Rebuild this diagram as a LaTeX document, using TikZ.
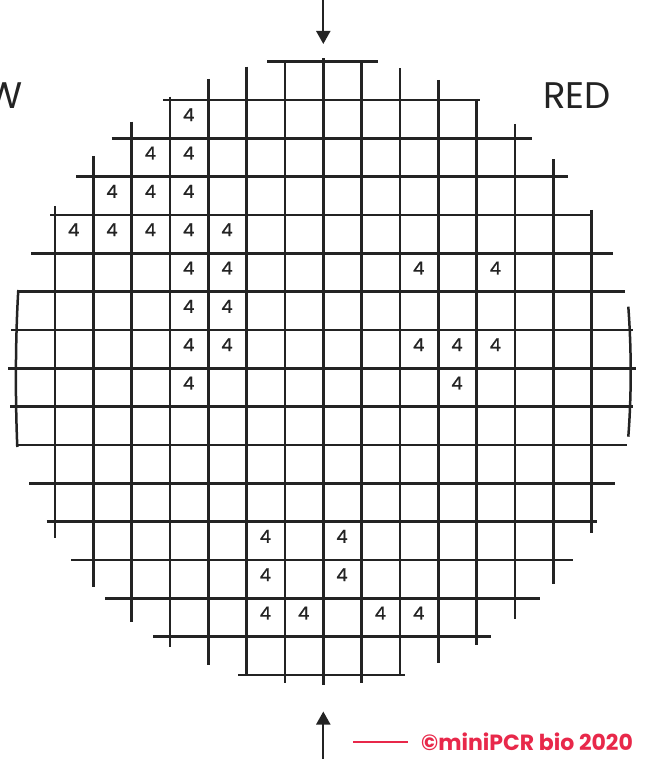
\documentclass[tikz,border=0pt]{standalone}
\usepackage{fontspec}
\setmainfont{Poppins}
\usetikzlibrary{arrows.meta}
\definecolor{mpred}{RGB}{232,40,74}
\definecolor{ink}{RGB}{35,35,35}
\begin{document}
\begin{tikzpicture}[x=1pt,y=-1pt,
  gridline/.style={line width=2.5pt, draw=ink, line cap=butt},
  digit/.style={font=\fontsize{18}{18}\selectfont\addfontfeature{FakeBold=0.8}, text=ink, inner sep=0pt},
  biglabel/.style={font=\fontsize{37}{37}\selectfont, text=ink, inner sep=0pt},
  arr/.style={line width=2pt, draw=ink, fill=ink, -{Triangle[width=14pt,length=13pt]}}]
\useasboundingbox (0,0) rectangle (645,767);
% vertical lines: index/top/bottom
\foreach \k/\t/\b in {0/206/538.3, 1/156/587.3, 2/121.7/621.7, 3/96.7/646.7,
  4/79/665, 5/66.7/676, 6/61.7/683.3, 7/58.3/685, 8/61.7/682.7, 9/68.3/676,
  10/80/663.3, 11/99/645, 12/124/619.3, 13/159.3/584, 14/210/533.3}
  \draw[gridline] ({55+38.333*\k},\t) -- ({55+38.333*\k},\b);
% horizontal lines: index/left/right
\foreach \j/\l/\r in {0/267/378, 1/163.3/480, 2/111.7/531.7, 3/76/568.3,
  4/50/593, 5/31/613.3, 6/18.3/625, 7/11/633.3, 8/8.3/636, 9/10/633,
  10/16.7/627, 11/29.3/615, 12/46.7/597.3, 13/71/573.3, 14/105/540,
  15/153.3/491, 16/238.3/405}
  \draw[gridline] (\l,{61.7+38.333*\j}) -- (\r,{61.7+38.333*\j});
% flats (arcs) at the sides
\draw[gridline] (18.3,290) .. controls (15.3,340) and (15.3,400) .. (17.3,447);
\draw[gridline] (628.3,306.7) .. controls (631.5,350) and (631.5,395) .. (628.3,436.7);
% digits: row/column
\foreach \r/\c in {1/3, 2/2, 2/3, 3/1, 3/2, 3/3, 4/0, 4/1, 4/2, 4/3, 4/4,
  5/3, 5/4, 5/9, 5/11, 6/3, 6/4, 7/3, 7/4, 7/9, 7/10, 7/11, 8/3, 8/10,
  12/5, 12/7, 13/5, 13/7, 14/5, 14/6, 14/8, 14/9}
  \node[digit] (d\r-\c) at ({55+38.333*(\c+0.5)-0.5},{61.7+38.333*(\r+0.5)-4.5}) {4};
% labels
\node[biglabel, anchor=base west] (red) at (543,108.3) {RED};
\node[biglabel, anchor=base east] (w) at (23,108.3) {W};
% arrows
\coordinate (topstart) at (323.3,0);
\coordinate (toptip) at (323.3,44);
\coordinate (botstart) at (323.3,758.5);
\coordinate (bottip) at (323.3,711.5);
\draw[arr] (topstart) -- (toptip);
\draw[arr] (botstart) -- (bottip);
% copyright
\coordinate (cl) at (353.3,741.7);
\coordinate (cr) at (408.3,741.7);
\draw[mpred, line width=2pt] (cl) -- (cr);
\node[anchor=base west, inner sep=0pt, text=mpred, font=\bfseries\fontsize{22}{22}\selectfont] (copy) at (421,750.5) {©miniPCR bio 2020};
\end{tikzpicture}
\end{document}
